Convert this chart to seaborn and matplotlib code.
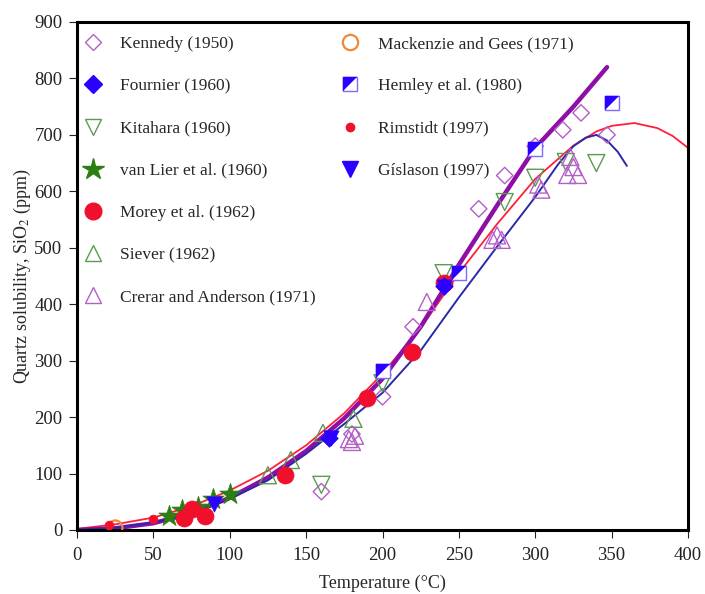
import numpy as np
import matplotlib
matplotlib.use("Agg")
import matplotlib.pyplot as plt
from matplotlib.lines import Line2D
from matplotlib.legend_handler import HandlerTuple
import seaborn as sns

# ---- measured solubility data (temperature in degC, SiO2 in ppm) ----
kennedy_t = [160, 180, 200, 220, 263, 280, 300, 318, 330, 347]
kennedy_s = [68, 170, 236, 360, 569, 628, 680, 709, 739, 700]

fournier_t = [165, 240]
fournier_s = [163, 432]

kitahara_t = [160, 200, 240, 280, 300, 320, 340]
kitahara_s = [80, 260, 455, 581, 624, 652, 650]

vanlier_t = [60, 69, 79, 89, 100]
vanlier_s = [24, 35, 41, 55, 64]

morey_t = [70, 75, 84, 136, 190, 219, 240]
morey_s = [21, 37, 25, 97, 234, 315, 437]

siever_t = [125, 140, 161, 181]
siever_s = [97, 124, 172, 197]

crerar_t = [178, 180, 182, 229, 272, 275, 278, 302, 304, 321, 323, 325, 328]
crerar_s = [161, 156, 167, 404, 514, 522, 514, 612, 603, 629, 661, 643, 629]

mackenzie_t = [25]
mackenzie_s = [4]

hemley_t = [200, 250, 300, 350]
hemley_s = [282, 456, 675, 756]

rimstidt_t = [21, 50]
rimstidt_s = [8, 19]

gislason_t = [90, 166, 240]
gislason_s = [46, 163, 430]

# ---- solubility curves ----
curve_purple_t = [0, 25, 50, 75, 100, 125, 150, 175, 200, 225, 250, 275, 300, 325, 347]
curve_purple_s = [0, 3, 12, 30, 57, 93, 140, 198, 268, 360, 470, 575, 677, 750, 820]

curve_red_t = [0, 25, 50, 75, 100, 125, 150, 175, 200, 225, 250, 275, 300, 325, 340,
               350, 365, 380, 390, 400]
curve_red_s = [2, 10, 22, 42, 70, 105, 150, 207, 277, 358, 455, 542, 622, 681, 706,
               716, 721, 712, 698, 677]

curve_blue_t = [0, 25, 50, 75, 100, 125, 150, 175, 200, 225, 250, 275, 300, 315, 325,
                333, 340, 347, 354, 360]
curve_blue_s = [0, 4, 13, 30, 55, 88, 135, 188, 243, 318, 412, 502, 590, 648, 680,
                695, 700, 690, 670, 645]

x_ticks = [0, 50, 100, 150, 200, 250, 300, 350, 400]
y_ticks = [0, 100, 200, 300, 400, 500, 600, 700, 800, 900]

sns.set_style("ticks")
plt.rcParams["font.family"] = ["Liberation Serif", "DejaVu Serif"]
plt.rcParams["mathtext.fontset"] = "stix"

fig = plt.figure(figsize=(7.05, 5.94), dpi=100)
ax = fig.add_axes([77 / 705, 1 - 530 / 594, 611 / 705, 508 / 594])

# curves
sns.lineplot(x=curve_red_t, y=curve_red_s, color="#ff1f3a", linewidth=1.3, ax=ax, zorder=2)
sns.lineplot(x=curve_purple_t, y=curve_purple_s, color="#8e0fa6", linewidth=3.2, ax=ax, zorder=2)
sns.lineplot(x=curve_blue_t, y=curve_blue_s, color="#2a2aa8", linewidth=1.4, ax=ax, zorder=2)

PURPLE = "#b35fc6"
GREEN_OPEN = "#5c9a52"
GREEN_STAR = "#2d7e12"
RED = "#f0102e"
BLUE = "#2c00ff"
ORANGE = "#f0883a"


def open_pts(t, s, marker, color, size, lw=1.0):
    sns.scatterplot(x=t, y=s, marker=marker, s=size, facecolor="none",
                    edgecolor=color, linewidth=lw, ax=ax, zorder=3)


def filled_pts(t, s, marker, color, size):
    sns.scatterplot(x=t, y=s, marker=marker, s=size, color=color,
                    edgecolor=color, linewidth=0.5, ax=ax, zorder=4)


open_pts(kennedy_t, kennedy_s, "D", PURPLE, 70)
open_pts(kitahara_t, kitahara_s, "v", GREEN_OPEN, 150)
open_pts(siever_t, siever_s, "^", GREEN_OPEN, 150)
open_pts(crerar_t, crerar_s, "^", PURPLE, 150)
open_pts(mackenzie_t, mackenzie_s, "o", ORANGE, 110, lw=1.6)
filled_pts(vanlier_t, vanlier_s, "*", GREEN_STAR, 260)
filled_pts(morey_t, morey_s, "o", RED, 150)
filled_pts(rimstidt_t, rimstidt_s, "o", RED, 40)
filled_pts(fournier_t, fournier_s, "D", BLUE, 80)
filled_pts(gislason_t, gislason_s, "v", BLUE, 120)

# half-filled squares (diagonal split)
HALF = [(-1, -1), (-1, 1), (1, 1)]
sns.scatterplot(x=hemley_t, y=hemley_s, marker="s", s=110, facecolor="white",
                edgecolor="#7a6cff", linewidth=1.0, ax=ax, zorder=4)
sns.scatterplot(x=hemley_t, y=hemley_s, marker=HALF, s=110, color=BLUE,
                edgecolor=BLUE, linewidth=0.3, ax=ax, zorder=5)

ax.set_xlim(0, 400)
ax.set_ylim(0, 900)
ax.set_xticks(x_ticks)
ax.set_yticks(y_ticks)
ax.tick_params(direction="out", length=6, width=0.8, labelsize=13.5, colors="#222222")
ax.tick_params(axis="x", pad=6.5)
ax.tick_params(axis="y", pad=4.5)
for sp in ax.spines.values():
    sp.set_visible(True)
    sp.set_linewidth(2.2)
    sp.set_color("black")

ax.set_xlabel("Temperature (\u00b0C)", fontsize=13, labelpad=7.5)
ax.set_ylabel("Quartz solubility, SiO$_2$ (ppm)", fontsize=13, labelpad=1)


def mk(marker, color, filled, ms, lw=1.0):
    return Line2D([], [], linestyle="none", marker=marker, markersize=ms,
                  markerfacecolor=color if filled else "none",
                  markeredgecolor=color, markeredgewidth=lw)


hem_sq = Line2D([], [], linestyle="none", marker="s", markersize=10,
                markerfacecolor="white", markeredgecolor="#7a6cff", markeredgewidth=1.0)
hem_tri = Line2D([], [], linestyle="none", marker=HALF, markersize=10,
                 markerfacecolor=BLUE, markeredgecolor=BLUE, markeredgewidth=0.3)

left_handles = [mk("D", PURPLE, False, 8), mk("D", BLUE, True, 9),
                mk("v", GREEN_OPEN, False, 12), mk("*", GREEN_STAR, True, 16),
                mk("o", RED, True, 12), mk("^", GREEN_OPEN, False, 12),
                mk("^", PURPLE, False, 12)]
left_labels = ["Kennedy (1950)", "Fournier (1960)", "Kitahara (1960)",
               "van Lier et al. (1960)", "Morey et al. (1962)", "Siever (1962)",
               "Crerar and Anderson (1971)"]
right_handles = [mk("o", ORANGE, False, 11, 1.6), (hem_sq, hem_tri),
                 mk("o", RED, True, 6), mk("v", BLUE, True, 11)]
right_labels = ["Mackenzie and Gees (1971)", "Hemley et al. (1980)",
                "Rimstidt (1997)", "G\u00edslason (1997)"]

common = dict(frameon=False, fontsize=12.5, loc="upper left", borderaxespad=0,
              borderpad=0.4, handlelength=1.0, handletextpad=1.1, labelspacing=1.5,
              handler_map={tuple: HandlerTuple(ndivide=1, pad=0)})
leg1 = ax.legend(left_handles, left_labels, bbox_to_anchor=(0.0, 0.986), **common)
ax.add_artist(leg1)
ax.legend(right_handles, right_labels, bbox_to_anchor=(0.421, 0.986), **common)

fig.savefig("out.png", dpi=100)
